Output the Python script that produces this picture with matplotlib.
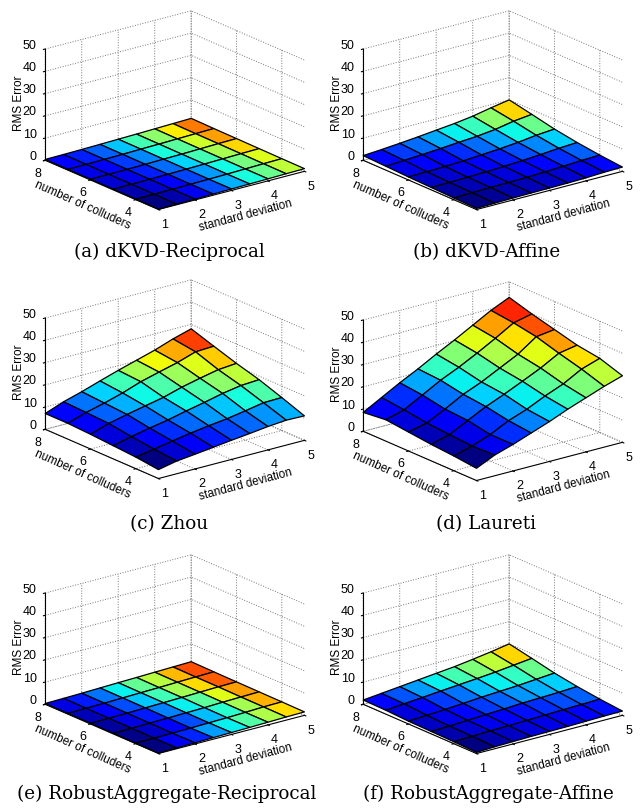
import matplotlib
matplotlib.use('Agg')
import matplotlib.pyplot as plt
import numpy as np

std_dev = [1, 1.5, 2, 2.5, 3, 3.5, 4, 4.5, 5]
colluders = [3, 4, 5, 6, 7, 8]

# RMS error, one row per number of colluders (3..8)
dkvd_reciprocal = [
    [.20, .26, .35, .50, .65, .77, .92, 1.07, 1.22],
    [.26, .31, .38, .49, .62, .76, .94, 1.13, 1.28],
    [.31, .34, .43, .55, .70, .85, 1.03, 1.22, 1.37],
    [.34, .38, .47, .59, .77, .89, 1.10, 1.31, 1.46],
    [.37, .43, .53, .68, .85, .98, 1.19, 1.37, 1.55],
    [.40, .47, .59, .74, .91, 1.07, 1.28, 1.49, 1.70],
]
dkvd_affine = [
    [.50, .69, .88, .98, 1.07, 1.17, 1.36, 1.74, 1.93],
    [.79, .98, 1.17, 1.26, 1.45, 1.74, 2.12, 2.59, 2.88],
    [1.07, 1.17, 1.36, 1.64, 1.93, 2.40, 2.97, 3.64, 4.11],
    [1.36, 1.55, 1.74, 2.12, 2.69, 3.26, 4.02, 5.06, 5.73],
    [1.74, 2.21, 2.69, 3.26, 3.92, 4.49, 5.44, 6.96, 7.91],
    [2.12, 2.69, 3.35, 4.11, 4.97, 5.82, 6.96, 8.58, 10.0],
]
zhou = [
    [4.0, 5.7, 6.6, 7.6, 8.6, 9.5, 10.5, 11.2, 11.0],
    [5.2, 6.6, 8.1, 9.5, 10.7, 11.7, 13.1, 14.6, 14.8],
    [5.9, 7.8, 9.5, 11.0, 12.9, 14.6, 16.5, 17.9, 18.4],
    [6.6, 9.3, 11.2, 12.9, 14.6, 17.0, 18.9, 20.6, 21.3],
    [7.1, 9.8, 11.9, 14.3, 17.2, 19.4, 21.5, 24.2, 24.6],
    [7.1, 10.2, 12.6, 15.3, 17.9, 20.3, 22.7, 25.6, 28.0],
]
laureti = [
    [5.5, 9.3, 11.9, 14.9, 17.9, 21.3, 24.3, 27.3, 29.9],
    [6.6, 8.9, 11.9, 16.0, 19.0, 22.8, 26.1, 30.6, 33.3],
    [7.4, 9.6, 13.8, 17.9, 21.3, 25.0, 28.8, 33.3, 34.8],
    [8.5, 10.4, 14.5, 19.0, 22.4, 26.5, 30.6, 36.3, 37.4],
    [9.6, 11.9, 16.4, 20.9, 24.6, 28.8, 33.3, 38.1, 40.0],
    [8.5, 13.0, 17.5, 21.6, 26.1, 30.3, 34.8, 39.3, 43.0],
]
robust_reciprocal = [
    [.20, .38, .49, .70, .85, 1.01, 1.21, 1.41, 1.55],
    [.22, .31, .42, .56, .76, .92, 1.19, 1.50, 1.64],
    [.25, .36, .47, .65, .85, 1.03, 1.32, 1.53, 1.71],
    [.29, .40, .56, .78, .97, 1.19, 1.42, 1.66, 1.78],
    [.36, .47, .63, .85, 1.05, 1.23, 1.48, 1.69, 1.87],
    [.38, .52, .70, .92, 1.14, 1.33, 1.57, 1.78, 2.00],
]
robust_affine = [
    [.50, .88, 1.07, 1.26, 1.36, 1.45, 1.64, 1.83, 1.93],
    [.88, 1.17, 1.45, 1.64, 1.83, 2.12, 2.40, 2.59, 2.88],
    [1.07, 1.36, 1.74, 2.21, 2.59, 3.07, 3.35, 3.64, 4.11],
    [1.26, 1.74, 2.21, 2.78, 3.45, 3.92, 4.40, 5.06, 5.73],
    [1.74, 2.50, 3.16, 3.92, 4.59, 5.25, 6.01, 6.96, 7.91],
    [1.93, 2.78, 3.64, 4.49, 5.35, 6.20, 7.34, 8.58, 10.0],
]

x_ticks = [1, 2, 3, 4, 5]
y_ticks = [4, 6, 8]
z_ticks = [0, 10, 20, 30, 40, 50]

W, H = 641, 810
plt.rcParams['font.family'] = ['Liberation Sans', 'DejaVu Sans']


def plot_panel(fig, values, caption, cx, cy, cap_x, cap_y):
    size = 320
    # box centre lands about 4.5 px right of and above the axes centre
    left = cx - 4.5 - size / 2
    top = cy + 4.5 - size / 2
    ax = fig.add_axes([left / W, 1 - (top + size) / H, size / W, size / H],
                      projection='3d')
    ax.patch.set_alpha(0)
    ax.set_proj_type('ortho')
    ax.view_init(elev=19.7, azim=-127.8)
    ax.set_box_aspect((1.0, 1.0, 0.64), zoom=0.87)

    X, Y = np.meshgrid(std_dev, colluders)
    Z = np.array(values)
    norm = plt.Normalize(Z.min(), Z.max())
    ax.plot_surface(X, Y, Z, facecolors=plt.cm.jet(norm(Z)), shade=False,
                    edgecolor='black', linewidth=0.9, rstride=1, cstride=1,
                    antialiased=True)

    ax.set_xlim(1, 5, view_margin=0)
    ax.set_ylim(3, 8, view_margin=0)
    ax.set_zlim(0, 50, view_margin=0)
    ax.set_xticks(x_ticks)
    ax.set_yticks(y_ticks)
    ax.set_zticks(z_ticks)
    ax.tick_params(labelsize=9, pad=-2)
    ax.tick_params(axis='x', pad=-1)
    ax.tick_params(axis='z', pad=-4)
    ax.zaxis.set_ticks_position('upper')
    ax.zaxis.set_label_position('upper')
    for tick in ax.zaxis.get_major_ticks():
        for label in [tick.label1, tick.label2]:
            label.set_ha('right')
            label.set_va('baseline')

    for axis in [ax.xaxis, ax.yaxis, ax.zaxis]:
        axis.set_pane_color((1, 1, 1, 0))
        axis.pane.set_edgecolor((1, 1, 1, 0))
        axis.line.set_color('black')
        axis.line.set_linewidth(0.8)
        axis._axinfo['grid'].update(color='#777777', linestyle=':', linewidth=0.7)
        axis._axinfo['tick'].update(inward_factor=0.15, outward_factor=0.0)

    ax.set_zlabel('RMS Error', fontsize=8.5, labelpad=-9)

    # the two floor labels sit off the axes' own label spots in the reference
    fig.text((cx + 70.5) / W, 1 - (cy + 106) / H, 'standard deviation', fontsize=8.5,
             rotation=15, ha='center', va='center')
    fig.text((cx - 93) / W, 1 - (cy + 95) / H, 'number of colluders', fontsize=8.5,
             rotation=-24, ha='center', va='center')

    fig.text(cap_x / W, 1 - cap_y / H, caption, family=['DejaVu Serif'],
             fontsize=13.2, ha='center', va='center')


fig = plt.figure(figsize=(W / 100, H / 100), dpi=100)

plot_panel(fig, dkvd_reciprocal, '(a) dKVD-Reciprocal', 175, 110, 169, 252)
plot_panel(fig, dkvd_affine, '(b) dKVD-Affine', 493, 110, 487, 252)
plot_panel(fig, zhou, '(c) Zhou', 175, 379, 169, 524)
plot_panel(fig, laureti, '(d) Laureti', 493, 381, 486, 524)
plot_panel(fig, robust_reciprocal, '(e) RobustAggregate-Reciprocal', 175, 654, 167, 794)
plot_panel(fig, robust_affine, '(f) RobustAggregate-Affine', 493, 654, 488, 794)

fig.savefig('out.png', dpi=100)
